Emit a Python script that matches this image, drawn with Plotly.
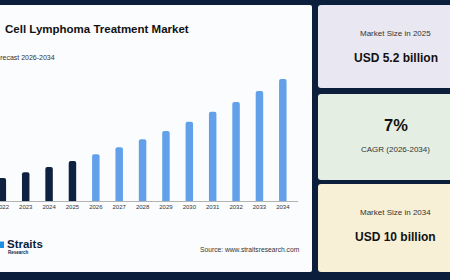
import plotly.graph_objects as go

# ---------------- data ----------------
years = [2022, 2023, 2024, 2025, 2026, 2027, 2028, 2029, 2030, 2031, 2032, 2033, 2034]
market_size = [4.20, 4.54, 4.85, 5.20, 5.59, 6.00, 6.47, 6.96, 7.49, 8.08, 8.65, 9.30, 10.0]
last_historical_year = 2025
tick_labels = [str(y) for y in years]

title_text = "Cell Lymphoma Treatment Market"
subtitle_text = "Forecast 2026-2034"
source_text = "Source: www.straitsresearch.com"
card_labels = ["Market Size in 2025", "7%", "Market Size in 2034"]
card_values = ["USD 5.2 billion", "CAGR (2026-2034)", "USD 10 billion"]

# ---------------- layout geometry ----------------
W, H = 450, 280
ML, MR, MT, MB = 0, 152, 60, 79
PW, PH = W - ML - MR, H - MT - MB

def px(x):
    return (x - ML) / PW

def py(y):
    return (H - MB - y) / PH

NAVY = "#0b1e3c"
HIST = "#0f2140"
FORE = "#62a0ea"
FONT = "Liberation Sans, Arial, sans-serif"

hx = [y for y in years if y <= last_historical_year]
hv = [v for y, v in zip(years, market_size) if y <= last_historical_year]
fx = [y for y in years if y > last_historical_year]
fv = [v for y, v in zip(years, market_size) if y > last_historical_year]

fig = go.Figure()
fig.add_bar(x=hx, y=hv, marker=dict(color=HIST, line=dict(width=0), cornerradius=2),
            width=0.32, hoverinfo="x+y")
fig.add_bar(x=fx, y=fv, marker=dict(color=FORE, line=dict(width=0), cornerradius=2),
            width=0.32, hoverinfo="x+y")

def rrect(x0, y0, x1, y1, r):
    # rounded rectangle path, pixel coords -> paper coords
    pts = [
        ("M", [(x0 + r, y0)]),
        ("L", [(x1 - r, y0)]),
        ("Q", [(x1, y0), (x1, y0 + r)]),
        ("L", [(x1, y1 - r)]),
        ("Q", [(x1, y1), (x1 - r, y1)]),
        ("L", [(x0 + r, y1)]),
        ("Q", [(x0, y1), (x0, y1 - r)]),
        ("L", [(x0, y0 + r)]),
        ("Q", [(x0, y0), (x0 + r, y0)]),
    ]
    s = ""
    for cmd, ps in pts:
        s += cmd + " ".join(f"{px(a):.5f},{py(b):.5f}" for a, b in ps) + " "
    return s + "Z"

shapes = [
    # main white panel
    dict(type="path", path=rrect(-10, 5, 312, 272, 2), xref="paper", yref="paper",
         fillcolor="#fbfcfe", line=dict(width=0), layer="below"),
    # cards
    dict(type="path", path=rrect(318, 5, 475, 88, 3), xref="paper", yref="paper",
         fillcolor="#e9e7f1", line=dict(width=0), layer="below"),
    dict(type="path", path=rrect(318, 94, 475, 180, 3), xref="paper", yref="paper",
         fillcolor="#e5eee2", line=dict(width=0), layer="below"),
    dict(type="path", path=rrect(318, 184, 475, 272, 3), xref="paper", yref="paper",
         fillcolor="#f7efd6", line=dict(width=0), layer="below"),
    # logo icon
    dict(type="rect", x0=px(-3), x1=px(4), y0=py(248), y1=py(241.5), xref="paper", yref="paper",
         fillcolor="#1b8fe2", line=dict(width=0), layer="above"),
]

ann = []
def text(x, y, t, size, color="#222", bold=False, xanchor="center"):
    ann.append(dict(x=px(x), y=py(y), xref="paper", yref="paper", text=(f"<b>{t}</b>" if bold else t),
                    showarrow=False, xanchor=xanchor, yanchor="middle",
                    font=dict(family=FONT, size=size, color=color), borderpad=0))

text(3.5, 29, title_text, 11.5, "#111", True, "left")
text(-9, 57.5, subtitle_text, 7, "#333", False, "left")
text(199, 249.5, source_text, 6.7, "#333", False, "left")
text(5.5, 244, "Straits", 11.5, NAVY, True, "left")
text(6.5, 252.5, "Research", 4.5, NAVY, True, "left")

cx = 395.5
text(cx, 34, card_labels[0], 8, "#333")
text(cx, 58.5, card_values[0], 12, "#111", True)
text(cx, 125.5, card_labels[1], 16.5, "#111", True)
text(cx, 149, card_values[1], 8, "#333")
text(cx, 212.5, card_labels[2], 8, "#333")
text(cx, 236.5, card_values[2], 12, "#111", True)

fig.update_layout(
    width=W, height=H,
    margin=dict(l=ML, r=MR, t=MT, b=MB, pad=0),
    paper_bgcolor=NAVY, plot_bgcolor="rgba(0,0,0,0)",
    showlegend=False, barmode="overlay",
    shapes=shapes, annotations=ann,
    font=dict(family=FONT),
    xaxis=dict(range=[2021.9, 2034.65], tickvals=years, ticktext=tick_labels,
               showgrid=False, zeroline=False, showline=True, linecolor="#b3b3b3", linewidth=1,
               ticks="", tickfont=dict(size=6, color="#333", family=FONT),
               ticklabeloverflow="allow", automargin=False, fixedrange=True),
    yaxis=dict(range=[2.85, 2.85 + PH / 17.06], visible=False, showgrid=False, zeroline=False,
               automargin=False, fixedrange=True),
)

fig.write_html("out.html")
